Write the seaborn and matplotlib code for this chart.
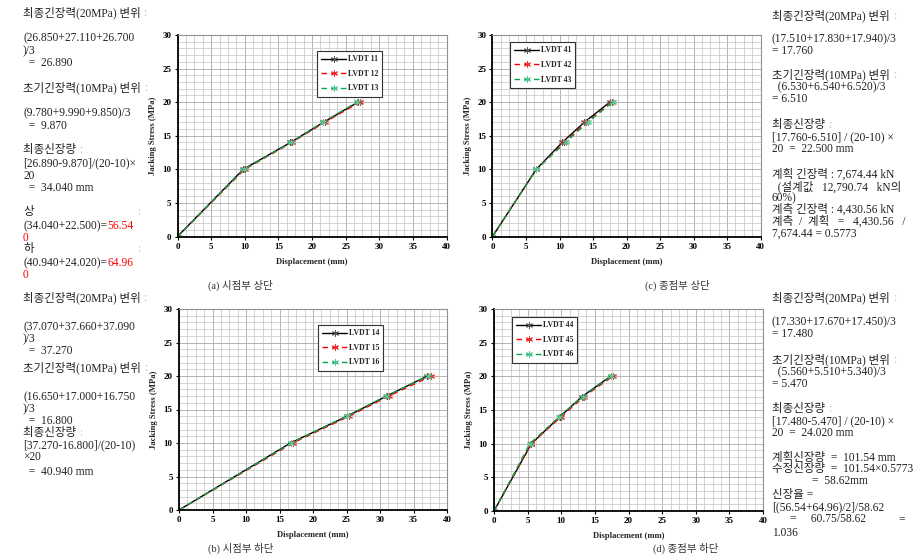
import numpy as np
import pandas as pd
import matplotlib
matplotlib.use("Agg")
import matplotlib.pyplot as plt
from matplotlib.ticker import MultipleLocator
import seaborn as sns

# ---------------- data ----------------
stress = [0, 10, 14, 17, 20]

lvdt11 = [0, 9.78, 16.8, 21.7, 26.85]
lvdt12 = [0, 9.99, 17.0, 21.9, 27.11]
lvdt13 = [0, 9.85, 16.9, 21.6, 26.70]

lvdt14 = [0, 16.65, 25.1, 31.0, 37.07]
lvdt15 = [0, 17.00, 25.4, 31.3, 37.66]
lvdt16 = [0, 16.75, 25.0, 30.9, 37.09]

lvdt41 = [0, 6.53, 10.4, 13.7, 17.51]
lvdt42 = [0, 6.54, 10.7, 14.0, 17.83]
lvdt43 = [0, 6.52, 10.9, 14.2, 17.94]

lvdt44 = [0, 5.56, 9.8, 13.1, 17.33]
lvdt45 = [0, 5.51, 10.0, 13.4, 17.67]
lvdt46 = [0, 5.34, 9.7, 13.2, 17.45]

labels_a = ["LVDT 11", "LVDT 12", "LVDT 13"]
labels_b = ["LVDT 14", "LVDT 15", "LVDT 16"]
labels_c = ["LVDT 41", "LVDT 42", "LVDT 43"]
labels_d = ["LVDT 44", "LVDT 45", "LVDT 46"]

captions = ["(a) 시점부 상단", "(b) 시점부 하단", "(c) 종점부 상단", "(d) 종점부 하단"]
xlabel = "Displacement (mm)"
ylabel = "Jacking Stress (MPa)"

# ---------------- style ----------------
sns.set_theme(style="white")
plt.rcParams["font.family"] = ["Liberation Serif", "Noto Sans CJK KR"]
plt.rcParams["axes.unicode_minus"] = False

W, H = 914, 556
fig = plt.figure(figsize=(W / 100, H / 100), dpi=100)
fig.patch.set_facecolor("white")

def ax_at(x0, x1, ytop, ybot):
    return fig.add_axes([x0 / W, 1 - ybot / H, (x1 - x0) / W, (ybot - ytop) / H])

series_styles = [
    dict(color="black", linestyle="-", mfc="#777777", mec="#555555"),
    dict(color="red", linestyle=(0, (4, 3)), mfc="#ff5050", mec="#e83030"),
    dict(color="#00a550", linestyle=(0, (4, 3)), mfc="#90e8b8", mec="#50c890"),
]
star = (6, 2, 0)

def draw_panel(ax, xs_list, labels, legend_bbox):
    for xs, lab, st in zip(xs_list, labels, series_styles):
        df = pd.DataFrame({"x": xs, "y": stress})
        sns.lineplot(data=df, x="x", y="y", ax=ax, color=st["color"],
                     linestyle=st["linestyle"], linewidth=1.0,
                     marker=star, markersize=5, markerfacecolor=st["mfc"],
                     markeredgecolor=st["mec"], markeredgewidth=0.7,
                     label=lab, legend=False, sort=False)
    ax.set_xlim(0, 40)
    ax.set_ylim(0, 30)
    ax.xaxis.set_major_locator(MultipleLocator(5))
    ax.yaxis.set_major_locator(MultipleLocator(5))
    ax.xaxis.set_minor_locator(MultipleLocator(1.25))
    ax.yaxis.set_minor_locator(MultipleLocator(1))
    ax.grid(which="major", color="#a8a8a8", linewidth=0.6)
    ax.grid(which="minor", color="#c4c4c4", linewidth=0.5)
    ax.set_axisbelow(True)
    for s in ["left", "bottom"]:
        ax.spines[s].set_color("black")
        ax.spines[s].set_linewidth(1.3)
    for s in ["top", "right"]:
        ax.spines[s].set_color("#909090")
        ax.spines[s].set_linewidth(0.8)
    ax.tick_params(which="major", direction="out", length=2.5, width=0.8,
                   labelsize=6.5, pad=2, bottom=True, left=True, colors="black")
    ax.tick_params(which="minor", length=0)
    for lbl in ax.get_xticklabels() + ax.get_yticklabels():
        lbl.set_fontweight("bold")
        lbl.set_family("Liberation Serif")
    ax.set_xlabel(xlabel, fontsize=6.2, fontweight="bold", labelpad=5)
    ax.set_ylabel(ylabel, fontsize=6.2, fontweight="bold", labelpad=4)
    leg = ax.legend(loc="upper left", bbox_to_anchor=legend_bbox,
                    prop={"family": "Liberation Serif", "weight": "bold", "size": 5.6},
                    frameon=True, fancybox=False, edgecolor="#333333",
                    framealpha=1, handlelength=3.2, labelspacing=0.85,
                    borderpad=0.55, handletextpad=0.2, borderaxespad=0)
    leg.get_frame().set_linewidth(0.8)

ax_a = ax_at(177.5, 446.5, 35, 236.5)
ax_c = ax_at(492.5, 760.5, 35, 236.5)
ax_b = ax_at(179, 447, 309, 510)
ax_d = ax_at(494, 763, 309, 511)

def bbox_for(ax, px, py):
    pos = ax.get_position()
    x = (px / W - pos.x0) / pos.width
    y = ((1 - py / H) - pos.y0) / pos.height
    return (x, y)

draw_panel(ax_a, [lvdt11, lvdt12, lvdt13], labels_a, bbox_for(ax_a, 317, 51))
draw_panel(ax_c, [lvdt41, lvdt42, lvdt43], labels_c, bbox_for(ax_c, 510, 42))
draw_panel(ax_b, [lvdt14, lvdt15, lvdt16], labels_b, bbox_for(ax_b, 318, 325))
draw_panel(ax_d, [lvdt44, lvdt45, lvdt46], labels_d, bbox_for(ax_d, 512, 317))

# captions
cap_kw = dict(fontsize=7.5, color="#333333", va="center", ha="left")
fig.text(208 / W, 1 - 285 / H, captions[0], **cap_kw)
fig.text(208 / W, 1 - 548 / H, captions[1], **cap_kw)
fig.text(645 / W, 1 - 285 / H, captions[2], **cap_kw)
fig.text(653 / W, 1 - 548 / H, captions[3], **cap_kw)

# ---------------- side texts ----------------
TK = dict(fontsize=8.3, color="#222222", va="center", ha="left")
renderer = fig.canvas.get_renderer()

def put(x, y, s, color="#222222"):
    kw = dict(TK)
    kw["color"] = color
    return fig.text(x / W, 1 - y / H, s, **kw)

def put_after(t, y, s, color):
    bb = t.get_window_extent(renderer)
    kw = dict(TK)
    kw["color"] = color
    return fig.text(bb.x1 / W, 1 - y / H, s, **kw)

LX = 23
left_top = [
    (13, "최종긴장력(20MPa) 변위 "),
    (38, "(26.850+27.110+26.700"),
    (51, ")/3"),
    (63, "  =  26.890"),
    (88, "초기긴장력(10MPa) 변위 "),
    (113, "(9.780+9.990+9.850)/3"),
    (126, "  =  9.870"),
    (150, "최종신장량 "),
    (163, "[26.890-9.870]/(20-10)×"),
    (176, "20"),
    (188, "  =  34.040 mm"),
    (212, "상"),
    (249, "하"),
]
for y, s in left_top:
    t = put(LX, y, s)
    if s.endswith(" "):
        put_after(t, y, ":", "#bbbbbb")
t = put(LX, 226, "(34.040+22.500)=")
put_after(t, 226, "56.54", "red")
put(LX, 238, "0", "red")
t = put(LX, 263, "(40.940+24.020)=")
put_after(t, 263, "64.96", "red")
put(LX, 275, "0", "red")
put(137, 212, ":", "#bbbbbb")
put(137, 249, ":", "#bbbbbb")

left_bot = [
    (298, "최종긴장력(20MPa) 변위 "),
    (327, "(37.070+37.660+37.090"),
    (339, ")/3"),
    (351, "  =  37.270"),
    (368, "초기긴장력(10MPa) 변위 "),
    (397, "(16.650+17.000+16.750"),
    (409, ")/3"),
    (421, "  =  16.800"),
    (433, "최종신장량 "),
    (445, "[37.270-16.800]/(20-10)"),
    (457, "×20"),
    (472, "  =  40.940 mm"),
]
for y, s in left_bot:
    t = put(LX, y, s)
    if s.endswith(" "):
        put_after(t, y, ":", "#bbbbbb")

RX = 772
right_top = [
    (16, "최종긴장력(20MPa) 변위 "),
    (39, "(17.510+17.830+17.940)/3"),
    (51, "= 17.760"),
    (75, "초기긴장력(10MPa) 변위 "),
    (87, "  (6.530+6.540+6.520)/3"),
    (99, "= 6.510"),
    (125, "최종신장량 "),
    (137, "[17.760-6.510] / (20-10) ×"),
    (149, "20  =  22.500 mm"),
    (175, "계획 긴장력 : 7,674.44 kN"),
    (187, "  (설계값   12,790.74   kN의"),
    (198, "60%)"),
    (210, "계측 긴장력 : 4,430.56 kN"),
    (222, "계측  /  계획   =   4,430.56   /"),
    (234, "7,674.44 = 0.5773"),
]
for y, s in right_top:
    t = put(RX, y, s)
    if s.endswith(" "):
        put_after(t, y, ":", "#bbbbbb")

right_bot = [
    (298, "최종긴장력(20MPa) 변위 "),
    (322, "(17.330+17.670+17.450)/3"),
    (334, "= 17.480"),
    (360, "초기긴장력(10MPa) 변위 "),
    (372, "  (5.560+5.510+5.340)/3"),
    (384, "= 5.470"),
    (409, "최종신장량 "),
    (421, "[17.480-5.470] / (20-10) ×"),
    (433, "20  =  24.020 mm"),
    (458, "계획신장량  =  101.54 mm"),
    (469, "수정신장량  =  101.54×0.5773"),
    (495, "신장율 ="),
    (507, "[(56.54+64.96)/2]/58.62"),
    (533, "1.036"),
]
for y, s in right_bot:
    t = put(RX, y, s)
    if s.endswith(" "):
        put_after(t, y, ":", "#bbbbbb")
put(812, 481, "=  58.62mm")
put(790, 519, "=     60.75/58.62")
put(898, 519, "=")

fig.savefig("out.png", dpi=100, facecolor="white")
